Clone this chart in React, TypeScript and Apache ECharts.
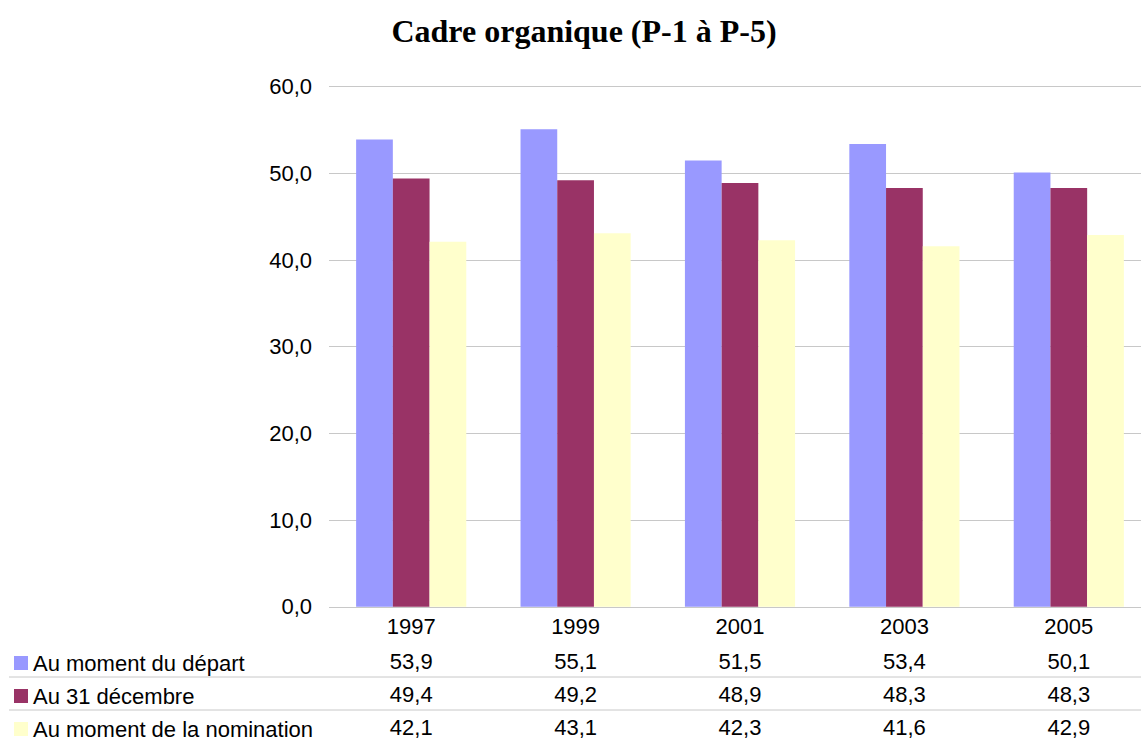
import React, { useEffect, useRef } from "react";
import * as echarts from "echarts";

const categories = ["1997", "1999", "2001", "2003", "2005"];
const seriesNames = ["Au moment du départ", "Au 31 décembre", "Au moment de la nomination"];
const departValues = [53.9, 55.1, 51.5, 53.4, 50.1];
const decembreValues = [49.4, 49.2, 48.9, 48.3, 48.3];
const nominationValues = [42.1, 43.1, 42.3, 41.6, 42.9];
const colors = ["#9999FF", "#993366", "#FFFFCC"];
const yTicks = { min: 0, max: 60, interval: 10 };

const fmt = (v: number) => v.toFixed(1).replace(".", ",");
const FONT = "'Liberation Sans', Arial, sans-serif";
const FS = 22;

export default function App() {
  const ref = useRef<HTMLDivElement>(null);
  useEffect(() => {
    if (!ref.current) return;
    const chart = echarts.init(ref.current, undefined, { renderer: "svg" });
    const allValues = [departValues, decembreValues, nominationValues];
    const rowOffsets = [36, 69, 102];
    const legendTops = [652, 685, 718];
    const tableAxes = allValues.map((vals, k) => ({
      type: "category" as const,
      data: categories,
      position: "bottom" as const,
      offset: rowOffsets[k],
      axisLine: { show: false },
      axisTick: { show: false },
      splitLine: { show: false },
      axisLabel: {
        margin: 8,
        fontFamily: FONT,
        fontSize: FS,
        color: "#000",
        formatter: (_v: string, i: number) => fmt(vals[i]),
      },
    }));
    chart.setOption({
      animation: false,
      backgroundColor: "#fff",
      title: {
        text: "Cadre organique (P-1 à P-5)",
        left: 579,
        top: 10,
        textAlign: "center",
        textStyle: {
          fontFamily: "'Liberation Serif', 'Times New Roman', serif",
          fontWeight: "bold",
          fontSize: 32,
          color: "#000",
        },
      },
      legend: seriesNames.map((n, k) => ({
        data: [n],
        orient: "vertical",
        left: 14,
        top: legendTops[k],
        padding: 0,
        itemWidth: 14,
        itemHeight: 14,
        itemGap: 0,
        icon: "rect",
        selectedMode: false,
        textStyle: { fontFamily: FONT, fontSize: FS, color: "#000", lineHeight: 22 },
      })),
      grid: { left: 329, right: 0, top: 86.7, bottom: 133.2, containLabel: false },
      xAxis: [
        {
          type: "category",
          data: categories,
          axisLine: { show: false },
          axisTick: { show: false },
          axisLabel: { margin: 9, fontFamily: FONT, fontSize: FS, color: "#000" },
        },
        ...tableAxes,
      ],
      yAxis: {
        type: "value",
        min: yTicks.min,
        max: yTicks.max,
        interval: yTicks.interval,
        axisLine: { show: false },
        axisTick: { show: false },
        splitLine: { lineStyle: { color: "#c8c8c8", width: 1 } },
        axisLabel: {
          margin: 17,
          fontFamily: FONT,
          fontSize: FS,
          color: "#000",
          formatter: (v: number) => fmt(v),
        },
      },
      series: allValues.map((vals, k) => ({
        name: seriesNames[k],
        type: "bar",
        xAxisIndex: 0,
        data: vals,
        barGap: "0%",
        barCategoryGap: "33%",
        itemStyle: { color: colors[k] },
      })),
      graphic: [677, 710].map((y) => ({
        type: "line",
        shape: { x1: 9, y1: y, x2: 1151, y2: y },
        style: { stroke: "#c8c8c8", lineWidth: 1 },
      })),
    });
    return () => chart.dispose();
  }, []);
  return (
    <div
      ref={ref}
      style={{ position: "fixed", left: 0, top: 0, width: 1151, height: 740 }}
    />
  );
}
